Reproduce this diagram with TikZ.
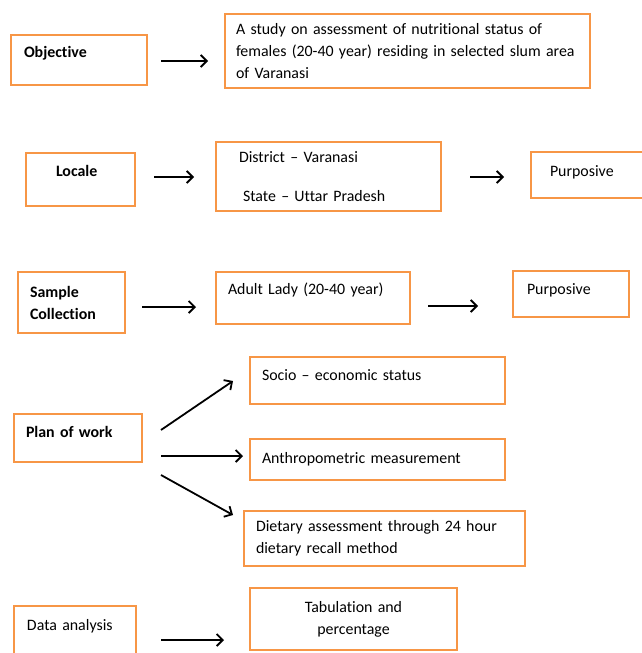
\documentclass[tikz,border=0pt]{standalone}
\usepackage{fontspec}
\setmainfont[Ligatures={TeX,NoCommon}]{Carlito}
\usepackage{xcolor}
\usepackage{tikz}
\usetikzlibrary{arrows.meta, positioning}
\definecolor{boxorange}{RGB}{247,150,70}

\begin{document}
\begin{tikzpicture}[
        x=1pt, y=1pt,
        block/.style={rectangle, draw=boxorange, line width=2.2pt, outer sep=0pt, inner ysep=0pt, anchor=north west, align=left, font=\fontsize{15.9}{22}\selectfont},
        head/.style={block, font=\fontsize{15.9}{22}\selectfont\bfseries},
        arr/.style={-{Straight Barb[length=6pt, width=12pt]}, line width=1.8pt},
    ]
        \useasboundingbox (0,0) rectangle (641,-653);

        % Row 1
        \node[head, inner xsep=13pt, text width=110pt, text height=22pt, text depth=28pt] (obj) at (11,-35) {Objective};
        \node[block, inner xsep=11pt, text width=343pt, minimum height=74pt, below right=-21pt and 78pt of obj.north east] (study) {A study on assessment of nutritional status of\\females (20-40 year) residing in selected slum area\\of Varanasi};

        % Row 2
        \node[head, inner xsep=30pt, text width=49pt, text height=23pt, text depth=30pt, below right=118pt and 15pt of obj.north west] (locale) {Locale};
        \node[block, inner xsep=23pt, text width=179pt, minimum height=69pt, below right=-11pt and 81pt of locale.north east] (district) {District – Varanasi\\[17pt]\hspace*{4pt}State – Uttar Pradesh};
        \node[block, inner xsep=19pt, text width=82pt, text height=24pt, text depth=22pt, below right=10pt and 90pt of district.north east] (purp1) {Purposive};

        % Row 3
        \node[head, inner xsep=12pt, text width=83pt, minimum height=61pt, below right=119pt and -8pt of locale.north west] (sample) {Sample\\Collection};
        \node[block, inner xsep=12pt, text width=170pt, text height=22pt, text depth=30pt, below right=0pt and 91pt of sample.north east] (adult) {Adult Lady (20-40 year)};
        \node[block, inner xsep=14pt, text width=88pt, text height=23pt, text depth=23pt, below right=-1pt and 103pt of adult.north east] (purp2) {Purposive};

        % Row 4
        \node[head, inner xsep=12pt, text width=104pt, text height=23pt, text depth=25pt, below right=142pt and -4pt of sample.north west] (plan) {Plan of work};
        \node[block, inner xsep=12pt, text width=231pt, text height=23pt, text depth=24pt, below right=-57pt and 108pt of plan.north east] (socio) {Socio – economic status};
        \node[block, inner xsep=12pt, text width=231pt, text height=24pt, text depth=17pt, below right=35pt and 0pt of socio.south west] (anthro) {Anthropometric measurement};
        \node[block, inner xsep=12pt, text width=257pt, minimum height=55pt, below right=31pt and -6pt of anthro.south west] (diet) {Dietary assessment through 24 hour\\dietary recall method};

        % Row 5
        \node[block, inner xsep=13pt, text width=96pt, text height=24pt, text depth=36pt, below right=192pt and 0pt of plan.north west] (data) {Data analysis};
        \node[block, align=center, inner xsep=12pt, text width=183pt, minimum height=62pt, below right=-18pt and 114pt of data.north east] (tab) {Tabulation and\\percentage};

        % Arrows
        \draw[arr] ([xshift=14pt, yshift=-1pt]obj.east) -- ([xshift=-17pt, yshift=-10pt]study.west);
        \draw[arr] ([xshift=19pt, yshift=2.5pt]locale.east) -- ([xshift=-22pt, yshift=-0.5pt]district.west);
        \draw[arr] ([xshift=29pt, yshift=-0.5pt]district.east) -- ([xshift=-27pt, yshift=-2pt]purp1.west);
        \draw[arr] ([xshift=17pt, yshift=-4.5pt]sample.east) -- ([xshift=-20pt, yshift=-9pt]adult.west);
        \draw[arr] ([xshift=18pt, yshift=-8pt]adult.east) -- ([xshift=-35pt, yshift=-12pt]purp2.west);
        \draw[arr] ([xshift=19pt, yshift=8pt]plan.east) -- ([xshift=-17pt, yshift=-0.5pt]socio.west);
        \draw[arr] ([xshift=19pt, yshift=-18pt]plan.east) -- ([xshift=-7pt, yshift=3.5pt]anthro.west);
        \draw[arr] ([xshift=19pt, yshift=-37pt]plan.east) -- ([xshift=-11pt, yshift=23.5pt]diet.west);
        \draw[arr] ([xshift=25pt, yshift=-4pt]data.east) -- ([xshift=-26pt, yshift=-21pt]tab.west);
    \end{tikzpicture}
\end{document}
